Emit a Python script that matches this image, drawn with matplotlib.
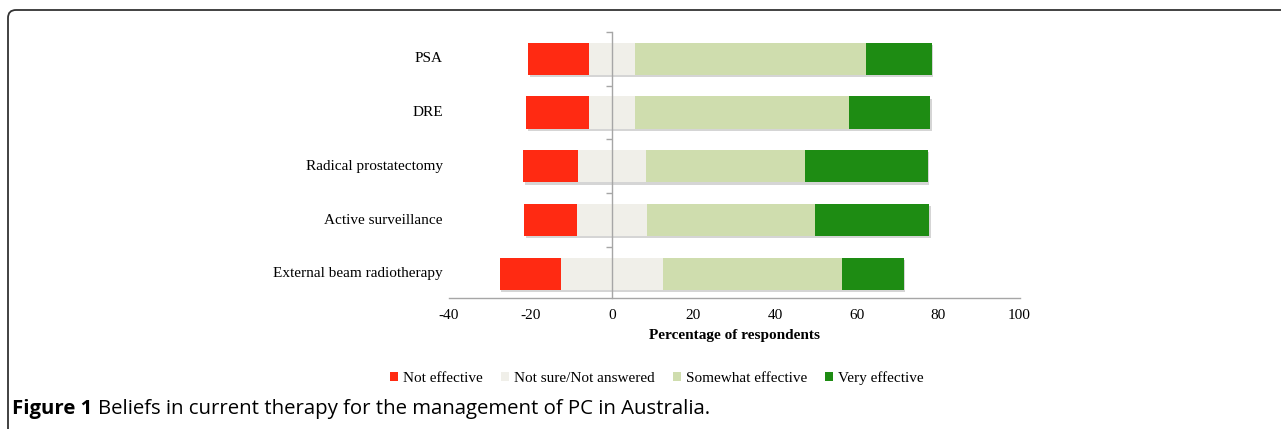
import numpy as np
import matplotlib
matplotlib.use('Agg')
from matplotlib import pyplot as plt
from matplotlib.path import Path
from matplotlib.patches import PathPatch, Patch
import matplotlib.patheffects as pe

plt.rcParams['axes.unicode_minus'] = False

# data (percent of respondents)
cats = ['PSA', 'DRE', 'Radical prostatectomy', 'Active surveillance',
        'External beam radiotherapy']
not_eff = np.array([15.0, 15.5, 13.6, 13.0, 15.1])
not_sure = np.array([11.1, 11.1, 16.5, 17.0, 25.0])
somewhat = np.array([56.7, 52.5, 39.2, 41.4, 44.0])
very = np.array([16.2, 20.0, 30.0, 27.9, 15.1])
labels = ['Not effective', 'Not sure/Not answered', 'Somewhat effective', 'Very effective']
colors = ['#FF2A12', '#F0EFE9', '#CFDDAE', '#1E8C13']

W, H = 1281, 429
fig = plt.figure(figsize=(W / 100, H / 100), dpi=100)
ax = fig.add_axes([449 / W, 1 - 298 / H, 570.5 / W, 266 / H])

serif = 'Liberation Serif'
fs = 11
y = np.arange(len(cats))[::-1]
start = -(not_eff + not_sure / 2)
shadow = [pe.SimplePatchShadow(offset=(1.2, -1.5), shadow_rgbFace='#888888', alpha=0.35), pe.Normal()]
left = start.copy()
for vals, col, lab in zip([not_eff, not_sure, somewhat, very], colors, labels):
    b = ax.barh(y, vals, left=left, height=0.6, color=col, zorder=2)
    for p in b.patches:
        p.set_path_effects(shadow)
    left = left + vals

ax.set_xlim(-40, 100)
ax.set_ylim(-0.45, 4.5)
ax.set_xticks(np.arange(-40, 101, 20))
ax.tick_params(axis='x', length=0, pad=8, labelsize=fs)
for t in ax.get_xticklabels():
    t.set_fontfamily(serif)
ax.set_yticks(np.arange(0.5, 4.6, 1.0))
ax.set_yticklabels([])
ax.tick_params(axis='y', length=4, color='#A6A6A6', width=1)
ax.spines['left'].set_position(('data', 0))
for s in ['top', 'right']:
    ax.spines[s].set_visible(False)
for s in ['left', 'bottom']:
    ax.spines[s].set_color('#A6A6A6')
    ax.spines[s].set_linewidth(1.0)
ax.spines['left'].set_zorder(3)

tr = matplotlib.transforms.blended_transform_factory(ax.transAxes, ax.transData)
for yy, c in zip(y, cats):
    ax.text(-0.011, yy, c, transform=tr, ha='right', va='center',
            fontsize=fs, family=serif)

ax.set_xlabel('Percentage of respondents', fontsize=fs, family=serif,
              fontweight='bold', labelpad=5)

handles = [Patch(facecolor=c, edgecolor='none', label=l) for c, l in zip(colors, labels)]
fig.legend(handles=handles, loc='center', bbox_to_anchor=(657 / W, 1 - 378 / H),
           ncol=4, frameon=False, handlelength=0.5, handleheight=0.5,
           handletextpad=0.35, columnspacing=1.2,
           prop={'family': serif, 'size': fs})

# caption
r = fig.canvas.get_renderer()
t1 = fig.text(12 / W, 1 - 409 / H, 'Figure 1', fontsize=14.7, fontweight='bold',
              family='Open Sans', va='center')
bb = t1.get_window_extent(renderer=r)
fig.text((bb.x1 + 6) / W, 1 - 409 / H,
         'Beliefs in current therapy for the management of PC in Australia.',
         fontsize=14.7, family='Open Sans', va='center')

# rounded frame, open at right and bottom
rad = 8
verts = [(8, 429), (8, 10 + rad), (8, 10), (8 + rad, 10), (W, 10)]
verts = [(vx / W, 1 - vy / H) for vx, vy in verts]
codes = [Path.MOVETO, Path.LINETO, Path.CURVE3, Path.CURVE3, Path.LINETO]
fig.patches.append(PathPatch(Path(verts, codes), transform=fig.transFigure,
                             fill=False, edgecolor='#333333', linewidth=1.3))

fig.savefig('out.png', dpi=100)
